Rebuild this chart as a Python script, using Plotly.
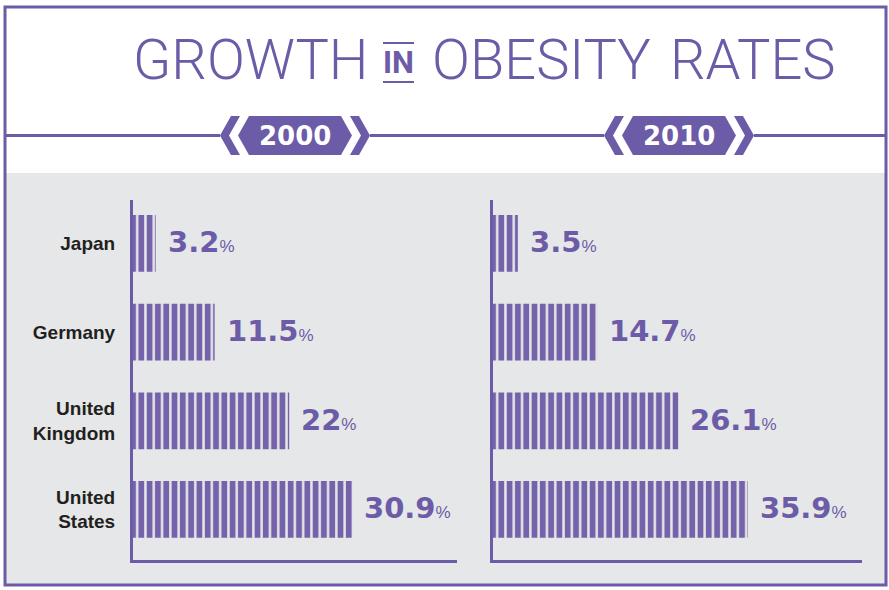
import plotly.graph_objects as go

# ---------------- data ----------------
countries = ["Japan", "Germany", "United Kingdom", "United States"]
tick_labels = ["Japan", "Germany", "United<br>Kingdom", "United<br>States"]
rates_2000 = [3.2, 11.5, 22, 30.9]
rates_2010 = [3.5, 14.7, 26.1, 35.9]
years = ["2000", "2010"]
title_words = ["GROWTH", "IN", "OBESITY", "RATES"]

# ---------------- style ----------------
W, H = 889, 590
PURPLE = "#6c5ba7"
BAR = "#7463ab"
GRAY = "#e6e7e8"
DARK = "#231f20"
PX_PER = 7.1  # pixels per percentage point


def px(x):
    return x / W


def py(y):
    return 1 - y / H


fig = go.Figure()

panels = [
    (rates_2000, "x", "y", 133, 457),
    (rates_2010, "x2", "y2", 493, 862),
]

for vals, xa, ya, x0, x1 in panels:
    fig.add_trace(go.Bar(
        x=vals, y=countries, orientation="h", xaxis=xa, yaxis=ya, width=0.64,
        marker=dict(color=BAR, line=dict(width=0),
                    pattern=dict(shape="|", fgcolor=GRAY, bgcolor=BAR, size=8.3,
                                 solidity=0.3, fillmode="replace")),
        hoverinfo="skip", showlegend=False,
    ))
    for c, v in zip(countries, vals):
        fig.add_annotation(
            x=v, y=c, xref=xa, yref=ya, xanchor="left", yanchor="middle",
            xshift=10, yshift=1, showarrow=False,
            text=f"<b>{v:g}</b><span style='font-size:17px;font-family:Liberation Sans'>%</span>",
            font=dict(family="DejaVu Sans", size=29, color=PURPLE),
        )

axis_common = dict(showline=True, linecolor=PURPLE, linewidth=3, showgrid=False,
                   zeroline=False, fixedrange=True)

fig.update_layout(
    width=W, height=H, margin=dict(l=0, r=0, t=0, b=0),
    paper_bgcolor="white", plot_bgcolor="rgba(0,0,0,0)",
    xaxis=dict(domain=[px(133), px(457)], range=[0, (457 - 133) / PX_PER],
               showticklabels=False, ticks="", anchor="y", **axis_common),
    yaxis=dict(domain=[py(560), py(200)], type="category",
               categoryorder="array", categoryarray=countries,
               range=[3.57, -0.49], tickvals=countries, ticktext=tick_labels,
               tickfont=dict(family="Liberation Sans", size=19, color=DARK, weight="bold"),
               ticks="", ticklabelstandoff=11, anchor="x", **axis_common),
    xaxis2=dict(domain=[px(493), px(862)], range=[0, (862 - 493) / PX_PER],
                showticklabels=False, ticks="", anchor="y2", **axis_common),
    yaxis2=dict(domain=[py(560), py(200)], type="category",
                categoryorder="array", categoryarray=countries,
                range=[3.57, -0.49], showticklabels=False, ticks="",
                anchor="x2", **axis_common),
)

shapes = []
# gray panel
shapes.append(dict(type="rect", xref="paper", yref="paper", x0=px(5), x1=px(886),
                   y0=py(585), y1=py(173), fillcolor=GRAY, line=dict(width=0), layer="below"))
# outer border
shapes.append(dict(type="rect", xref="paper", yref="paper", x0=px(5), x1=px(886),
                   y0=py(585), y1=py(7), line=dict(color=PURPLE, width=3), layer="above"))

# banners
centers = [295, 679]
ym, yt, yb = 135.5, 116, 155


def path(points):
    return "M " + " L ".join(f"{px(x):.5f},{py(y):.5f}" for x, y in points) + " Z"


for cx in centers:
    hexagon = [(cx - 57, ym), (cx - 46, yt), (cx + 46, yt), (cx + 57, ym), (cx + 46, yb), (cx - 46, yb)]
    lchev = [(cx - 75, ym), (cx - 64, yt), (cx - 55, yt), (cx - 66, ym), (cx - 55, yb), (cx - 64, yb)]
    rchev = [(cx + 75, ym), (cx + 64, yt), (cx + 55, yt), (cx + 66, ym), (cx + 55, yb), (cx + 64, yb)]
    for pts in (hexagon, lchev, rchev):
        shapes.append(dict(type="path", xref="paper", yref="paper", path=path(pts),
                           fillcolor=PURPLE, line=dict(width=0)))

# separator line segments
segs = [(5, centers[0] - 75), (centers[0] + 75, centers[1] - 75), (centers[1] + 75, 886)]
for a, b in segs:
    shapes.append(dict(type="line", xref="paper", yref="paper", x0=px(a), x1=px(b),
                       y0=py(ym), y1=py(ym), line=dict(color=PURPLE, width=3)))

# lines around "IN"
for yy in (43, 82):
    shapes.append(dict(type="line", xref="paper", yref="paper", x0=px(383), x1=px(414),
                       y0=py(yy), y1=py(yy), line=dict(color=PURPLE, width=2)))

fig.update_layout(shapes=shapes)

# year labels
for cx, yr in zip(centers, years):
    fig.add_annotation(x=px(cx), y=py(ym), xref="paper", yref="paper", showarrow=False,
                       xanchor="center", yanchor="middle", text=f"<b>{yr}</b>",
                       font=dict(family="DejaVu Sans", size=26, color="white"))

# title
title_pos = [(250, 60, 56, 300), (398.5, 63, 31, 700), (541, 60, 56, 300), (752.5, 60, 56, 300)]
for word, (cx, cy, size, weight) in zip(title_words, title_pos):
    fig.add_annotation(x=px(cx), y=py(cy), xref="paper", yref="paper", showarrow=False,
                       xanchor="center", yanchor="middle", text=word,
                       font=dict(family="Roboto", size=size, color=PURPLE, weight=weight))

fig.write_html("out.html")
